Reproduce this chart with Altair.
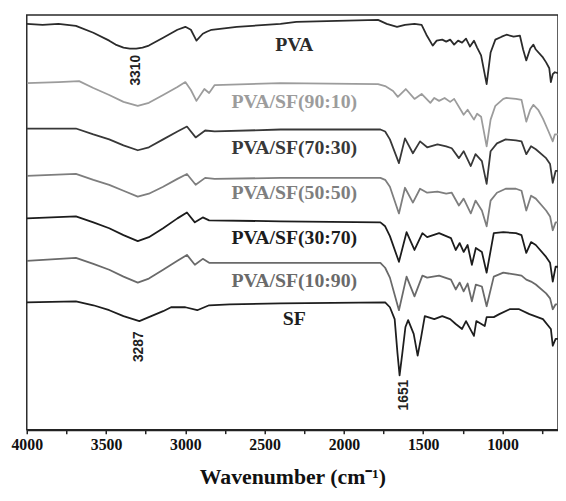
import altair as alt
import pandas as pd

# ---- series names and colours ----
SERIES = ["PVA", "PVA/SF(90:10)", "PVA/SF(70:30)", "PVA/SF(50:50)",
          "PVA/SF(30:70)", "PVA/SF(10:90)", "SF"]
COLORS = ["#2b2b2b", "#9c9c9c", "#383838", "#7e7e7e", "#1c1c1c", "#6a6a6a", "#1e1e1e"]

# ---- wavenumbers (cm-1) and offset transmittance (a.u.) ----
PVA_WN = [4000, 3900, 3800, 3690, 3580, 3480, 3440, 3390, 3350, 3310, 3270, 3230, 3140,
          3050, 3000, 2965, 2930, 2890, 2865, 2835, 2675, 2400, 2300,
          1785, 1730, 1665, 1615, 1555, 1510, 1480, 1440, 1415, 1380,
          1355, 1330, 1305, 1280, 1255, 1230, 1205, 1180, 1160, 1135,
          1100, 1075, 1045, 1005, 975, 930, 890, 870, 850, 825,
          805, 790, 745, 725, 705, 695, 683, 670, 650]
PVA_T = [411, 410, 411, 409, 402, 394, 390, 387, 386, 386, 387, 389, 397,
         405, 408, 405, 394, 401, 403, 405, 408, 411, 413,
         415, 411, 408, 410, 411, 410, 400, 389, 394, 395,
         393, 395, 390, 394, 392, 396, 388, 394, 387, 379,
         350, 382, 395, 398, 400, 398, 399, 385, 374, 386,
         390, 385, 377, 372, 366, 352, 360, 362, 361]

S90_WN = [4000, 3800, 3670, 3580, 3480, 3390, 3300, 3230, 3140, 3050,
          3000, 2965, 2930, 2880, 2850, 2815, 2400, 1785, 1740, 1690,
          1660, 1610, 1555, 1510, 1455, 1430, 1400, 1365, 1330, 1305,
          1245, 1220, 1180, 1160, 1135, 1100, 1075, 1045, 995, 975,
          915, 880, 850, 825, 805, 775, 745, 715, 683, 670, 650]
S90_T = [351, 352, 353, 346, 339, 332, 328, 331, 339, 347,
         352, 344, 333, 345, 341, 349, 351, 350, 348, 343,
         337, 345, 335, 340, 331, 336, 333, 336, 332, 335,
         319, 324, 314, 320, 317, 287, 314, 328, 335, 336,
         335, 334, 312, 324, 329, 324, 315, 304, 292, 299, 299]

MID_WN = [4000, 3690, 3580, 3480, 3390, 3300, 3230, 3140, 3050, 2990,
          2935, 2875, 2815, 2400, 1770, 1740, 1710, 1653, 1615, 1565,
          1520, 1475, 1410, 1355, 1320, 1275, 1245, 1200, 1170, 1130,
          1100, 1075, 1035, 980, 915, 880, 850, 820, 790, 725,
          700, 683, 665, 650]
S70_T = [305, 305, 299, 294, 288, 283, 286, 294, 302, 307,
         296, 303, 302, 304, 304, 302, 294, 270, 295, 280,
         292, 286, 289, 287, 285, 275, 282, 267, 279, 272,
         249, 282, 290, 294, 293, 292, 279, 287, 284, 275,
         269, 250, 262, 262]
S50_T = [257, 259, 253, 248, 242, 236, 239, 246, 254, 259,
         248, 255, 254, 255, 255, 253, 246, 219, 245, 230,
         244, 240, 241, 239, 240, 227, 234, 219, 232, 222,
         206, 232, 240, 244, 244, 242, 222, 237, 234, 222,
         216, 202, 210, 210]

RICH_WN = [4000, 3690, 3580, 3480, 3390, 3300, 3230, 3140, 3050, 2990,
           2940, 2890, 2850, 2400, 1770, 1740, 1710, 1653, 1605, 1555,
           1505, 1475, 1400, 1325, 1295, 1270, 1245, 1220, 1193, 1168,
           1130, 1100, 1055, 995, 915, 880, 850, 820, 790, 725,
           700, 683, 665, 650]
S30_T = [214, 216, 210, 204, 197, 191, 195, 204, 214, 220,
         210, 215, 212, 211, 210, 206, 196, 170, 200, 182,
         199, 195, 199, 194, 182, 189, 180, 187, 167, 184,
         180, 159, 199, 200, 199, 197, 179, 190, 187, 175,
         169, 150, 165, 165]
S10_T = [171, 174, 168, 162, 155, 149, 153, 162, 171, 177,
         167, 173, 169, 169, 169, 164, 154, 121, 155, 135,
         156, 154, 156, 152, 142, 149, 140, 148, 130, 147,
         145, 125, 155, 159, 157, 156, 152, 150, 147, 138,
         133, 122, 127, 127]

SF_WN = [4000, 3690, 3580, 3480, 3390, 3290, 3230, 3140, 3090, 3000,
         2925, 2850, 2720, 2400, 1740, 1710, 1680, 1662, 1649, 1632,
         1612, 1595, 1560, 1535, 1515, 1490, 1430, 1380, 1330, 1295,
         1255, 1230, 1180, 1165, 1112, 1100, 1055, 1020, 955, 895,
         830, 745, 695, 683, 665, 650]
SF_T = [129, 130, 126, 121, 115, 110, 114, 120, 124, 124,
        121, 126, 127, 128, 129, 124, 112, 77, 55, 77,
        104, 111, 97, 75, 92, 115, 112, 115, 112, 107,
        102, 110, 95, 110, 105, 114, 114, 117, 122, 122,
        117, 112, 102, 85, 92, 92]

CURVES = [(PVA_WN, PVA_T), (S90_WN, S90_T), (MID_WN, S70_T), (MID_WN, S50_T),
          (RICH_WN, S30_T), (RICH_WN, S10_T), (SF_WN, SF_T)]

# curve labels (position in data units)
LABEL_WN = [2313] * 7
LABEL_T = [390, 332, 285, 240, 194, 151, 112]

# peak annotations
PEAK_TEXT = ["3310", "3287", "1651"]
PEAK_WN = [3310, 3290, 1620]
PEAK_T = [364, 84, 35]

X_TICKS = [4000, 3750, 3500, 3250, 3000, 2750, 2500, 2250, 2000, 1750, 1500, 1250, 1000, 750]

rows = []
for name, (wn, t) in zip(SERIES, CURVES):
    assert len(wn) == len(t), name
    for w, v in zip(wn, t):
        rows.append({"series": name, "wn": w, "t": v})
df = pd.DataFrame(rows)

labels = pd.DataFrame({"series": SERIES, "wn": LABEL_WN, "t": LABEL_T})
peaks = pd.DataFrame({"text": PEAK_TEXT, "wn": PEAK_WN, "t": PEAK_T})

xscale = alt.Scale(domain=[650, 4000], reverse=True, nice=False, zero=False)
yscale = alt.Scale(domain=[0, 420], nice=False, zero=False)
cscale = alt.Scale(domain=SERIES, range=COLORS)

xaxis = alt.Axis(
    values=X_TICKS,
    labelExpr="datum.value % 500 === 0 ? datum.label : ''",
    format="d",
    grid=False,
    tickSize=4, tickWidth=1.5, tickColor="#222",
    domainColor="#222", domainWidth=2,
    labelFont="Liberation Serif", labelFontWeight="bold", labelFontSize=16,
    labelColor="#111", labelFlush=False, labelOverlap=False, labelPadding=3,
    title="Wavenumber (cm⁻¹)",
    titleFont="Liberation Serif", titleFontWeight="bold", titleFontSize=22,
    titleColor="#111", titlePadding=14,
)

lines = alt.Chart(df).mark_line(strokeWidth=1.8, clip=True, strokeJoin="round").encode(
    x=alt.X("wn:Q", scale=xscale, axis=xaxis),
    y=alt.Y("t:Q", scale=yscale, axis=None),
    color=alt.Color("series:N", scale=cscale, legend=None),
)

text_labels = alt.Chart(labels).mark_text(
    font="Liberation Serif", fontWeight="bold", fontSize=20,
    align="center", baseline="middle",
).encode(
    x=alt.X("wn:Q", scale=xscale),
    y=alt.Y("t:Q", scale=yscale),
    text="series:N",
    color=alt.Color("series:N", scale=cscale, legend=None),
)

peak_labels = alt.Chart(peaks).mark_text(
    font="Liberation Sans", fontWeight="bold", fontSize=14, angle=270,
    align="center", baseline="middle", color="#222",
).encode(
    x=alt.X("wn:Q", scale=xscale),
    y=alt.Y("t:Q", scale=yscale),
    text="text:N",
)

chart = alt.layer(lines, text_labels, peak_labels).properties(
    width=538, height=420,
    autosize=alt.AutoSizeParams(type="none"),
    padding={"left": 19, "right": 0, "top": 4, "bottom": 56},
).configure_view(stroke="#2a2a2a", strokeWidth=1.5)

chart.save("out.html", embed_options={"renderer": "svg", "actions": False})
